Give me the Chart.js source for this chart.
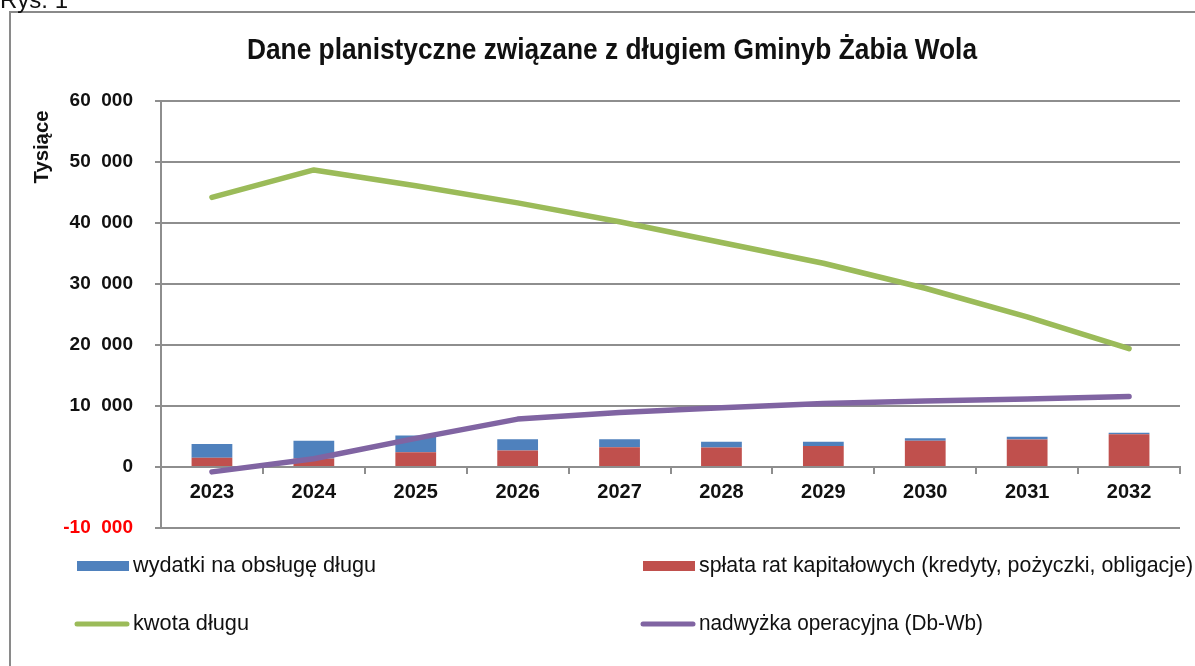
<!DOCTYPE html>
<html><head><meta charset="utf-8">
<script src="https://cdn.jsdelivr.net/npm/chart.js@4.4.1/dist/chart.umd.min.js"></script>
<style>html,body{margin:0;padding:0;background:#fff;}#wrap{width:1195px;height:666px;position:relative;}</style>
</head><body><div id="wrap"><canvas id="c" width="1195" height="666"></canvas></div>
<script>
const years = ['2023','2024','2025','2026','2027','2028','2029','2030','2031','2032'];
const splataRat = [1500, 1400, 2400, 2700, 3250, 3200, 3450, 4300, 4500, 5380];
const wydatkiObsluga = [2270, 2900, 2750, 1850, 1300, 930, 680, 430, 450, 220];
const kwotaDlugu = [44200, 48700, 46100, 43300, 40200, 36800, 33400, 29300, 24600, 19400];
const nadwyzka = [-800, 1350, 4700, 7850, 8950, 9700, 10400, 10800, 11150, 11550];
const yTickValues = [-10000, 0, 10000, 20000, 30000, 40000, 50000, 60000];
const yTickLabels = ['-10  000', '0', '10  000', '20  000', '30  000', '40  000', '50  000', '60  000'];
const titleText = 'Dane planistyczne związane z długiem Gminyb Żabia Wola';
const axisTitle = 'Tysiące';
const figLabel = 'Rys. 1';

const SANS = "'Liberation Sans',Arial,sans-serif";
const GRID = '#8e8e8e';

const legendItems = [
  {label: 'wydatki na obsługę długu', type: 'box', color: '#4F81BD', x: 77, y: 566, w: 243},
  {label: 'spłata rat kapitałowych (kredyty, pożyczki, obligacje)', type: 'box', color: '#C0504D', x: 643, y: 566, w: 494},
  {label: 'kwota długu', type: 'line', color: '#9BBB59', x: 77, y: 624, w: 116},
  {label: 'nadwyżka operacyjna (Db-Wb)', type: 'line', color: '#8064A2', x: 643, y: 624, w: 284}
];

function fitText(ctx, text, x, y, targetW) {
  const w = ctx.measureText(text).width;
  const k = targetW ? targetW / w : 1;
  ctx.save();
  ctx.translate(x, y);
  ctx.scale(k, 1);
  ctx.fillText(text, 0, 0);
  ctx.restore();
}

const decor = {
  id: 'decor',
  afterDraw(chart) {
    const ctx = chart.ctx;
    ctx.save();
    // frame
    ctx.strokeStyle = '#8a8a8a';
    ctx.lineWidth = 2;
    ctx.beginPath();
    ctx.moveTo(10, 700); ctx.lineTo(10, 12); ctx.lineTo(1200, 12);
    ctx.stroke();
    // figure label
    ctx.fillStyle = '#111';
    ctx.font = "24px " + SANS;
    ctx.textAlign = 'left'; ctx.textBaseline = 'alphabetic';
    fitText(ctx, figLabel, 0, 8, 0);
    // title
    ctx.font = "bold 30px " + SANS;
    ctx.textAlign = 'center'; ctx.textBaseline = 'middle';
    fitText(ctx, titleText, 612, 51, 730);
    // axis title
    ctx.save();
    ctx.translate(42, 147);
    ctx.rotate(-Math.PI/2);
    ctx.font = "bold 21px " + SANS;
    ctx.textAlign = 'center'; ctx.textBaseline = 'middle';
    fitText(ctx, axisTitle, 0, 0, 73);
    ctx.restore();
    // legend
    ctx.font = "22px " + SANS;
    ctx.textAlign = 'left'; ctx.textBaseline = 'middle';
    legendItems.forEach(it => {
      if (it.type === 'box') {
        ctx.fillStyle = it.color;
        ctx.fillRect(it.x, it.y - 5, 52, 10);
      } else {
        ctx.strokeStyle = it.color;
        ctx.lineWidth = 5; ctx.lineCap = 'round';
        ctx.beginPath(); ctx.moveTo(it.x, it.y); ctx.lineTo(it.x + 50, it.y); ctx.stroke();
      }
      ctx.fillStyle = '#111';
      fitText(ctx, it.label, it.x + 56, it.y, it.w);
    });
    ctx.restore();
  }
};

new Chart(document.getElementById('c'), {
  data: {
    labels: years,
    datasets: [
      {type: 'line', label: legendItems[2].label, data: kwotaDlugu, borderColor: '#9BBB59', borderWidth: 5.5, pointRadius: 0, borderCapStyle: 'round', borderJoinStyle: 'round', tension: 0, stack: 'l1', order: 0},
      {type: 'line', label: legendItems[3].label, data: nadwyzka, borderColor: '#8064A2', borderWidth: 5.5, pointRadius: 0, borderCapStyle: 'round', borderJoinStyle: 'round', tension: 0, stack: 'l2', order: 0},
      {type: 'bar', label: legendItems[1].label, data: splataRat, backgroundColor: '#C0504D', stack: 'b', order: 1, categoryPercentage: 0.8, barPercentage: 0.5},
      {type: 'bar', label: legendItems[0].label, data: wydatkiObsluga, backgroundColor: '#4F81BD', stack: 'b', order: 1, categoryPercentage: 0.8, barPercentage: 0.5}
    ]
  },
  options: {
    responsive: false,
    animation: false,
    layout: {padding: {top: 101, right: 15, bottom: 138, left: 0}},
    plugins: {legend: {display: false}, tooltip: {enabled: false}, title: {display: false}},
    scales: {
      x: {
        stacked: true,
        position: {y: 0},
        grid: {offset: true, drawOnChartArea: false, drawTicks: true, tickLength: 6, color: GRID, lineWidth: 2},
        border: {display: true, color: GRID, width: 2},
        ticks: {color: '#111', font: {family: SANS, size: 20, weight: 'bold'}, padding: 7, maxRotation: 0}
      },
      y: {
        stacked: true,
        min: -10000, max: 60000,
        afterFit(scale) { scale.width = 161; },
        afterBuildTicks(scale) { scale.ticks = yTickValues.map(v => ({value: v})); },
        grid: {color: GRID, lineWidth: 2, tickLength: 6, drawTicks: true},
        border: {display: true, color: GRID, width: 2},
        ticks: {
          padding: 22,
          font: {family: SANS, size: 19, weight: 'bold'},
          color: ctx => (ctx.tick && ctx.tick.value < 0) ? '#ff0000' : '#111',
          callback: (v) => yTickLabels[yTickValues.indexOf(v)]
        }
      }
    }
  },
  plugins: [decor]
});
</script>
</body></html>
